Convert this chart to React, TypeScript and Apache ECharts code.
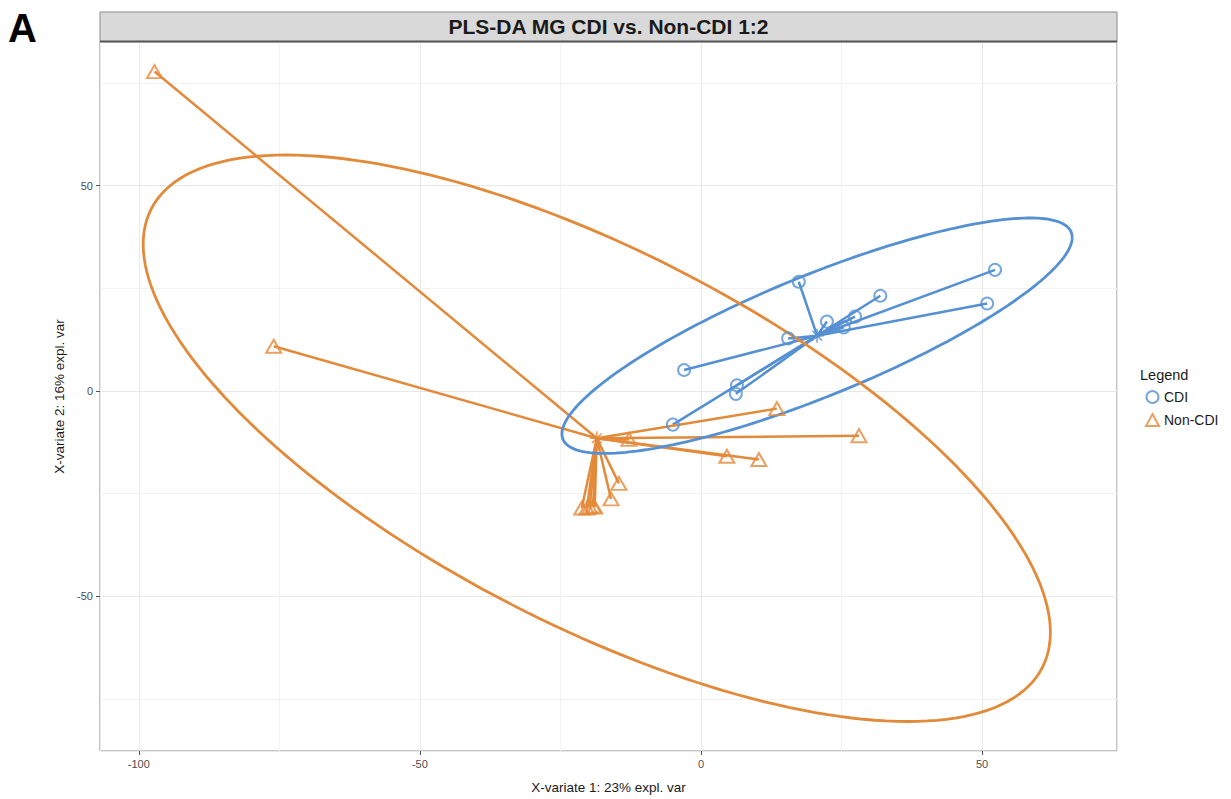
import React, { useEffect, useRef } from "react";
import * as echarts from "echarts";

// ---- data ----
const cdiX = [17.4, 52.3, 50.9, 31.9, 27.4, 22.4, 25.4, 15.5, -3.0, 6.4, 6.2, -5.0];
const cdiY = [26.6, 29.5, 21.3, 23.2, 18.1, 16.9, 15.5, 12.8, 5.1, 1.4, -0.7, -8.2];
const nonX = [-97.2, -76.0, 13.5, 28.1, -12.8, 4.6, 10.3, -14.6, -16.0, -21.2, -20.3, -19.8, -19.2, -18.9];
const nonY = [77.8, 10.9, -4.3, -10.9, -11.8, -15.9, -16.7, -22.5, -26.3, -28.5, -28.5, -28.3, -28.0, -28.3];
const groups = ["CDI", "Non-CDI"];
const xMajorTicks = [-100, -50, 0, 50];
const xMinorGrid = [-75, -25, 25];
const yMinorGrid = [-75, -25, 25, 75];
const ellipseLevel = 0.95;

const BLUE = "#5590D2";
const ORANGE = "#E38A3A";
const FONT = "Liberation Sans, Arial, Helvetica, sans-serif";

function mean(a: number[]) {
  return a.reduce((s, v) => s + v, 0) / a.length;
}

function confEllipse(xs: number[], ys: number[]) {
  const mx = mean(xs), my = mean(ys);
  const n = xs.length;
  let sxx = 0, syy = 0, sxy = 0;
  for (let i = 0; i < n; i++) {
    sxx += (xs[i] - mx) ** 2;
    syy += (ys[i] - my) ** 2;
    sxy += (xs[i] - mx) * (ys[i] - my);
  }
  sxx /= n - 1; syy /= n - 1; sxy /= n - 1;
  const t = Math.sqrt(-2 * Math.log(1 - ellipseLevel));
  const a = Math.sqrt(sxx);
  const b = sxy / a;
  const c = Math.sqrt(syy - b * b);
  const pts: number[][] = [];
  for (let k = 0; k <= 200; k++) {
    const th = (2 * Math.PI * k) / 200;
    pts.push([mx + t * a * Math.cos(th), my + t * (b * Math.cos(th) + c * Math.sin(th))]);
  }
  return pts;
}

function segments(xs: number[], ys: number[]) {
  const cx = mean(xs), cy = mean(ys);
  return xs.map((x, i) => ({ coords: [[cx, cy], [x, ys[i]]] }));
}

const STAR = "path://M0,-1L0,1M-1,0L1,0M-0.7,-0.7L0.7,0.7M-0.7,0.7L0.7,-0.7";

export default function App() {
  const ref = useRef<HTMLDivElement>(null);
  useEffect(() => {
    if (!ref.current) return;
    const chart = echarts.init(ref.current, null, { renderer: "svg" });
    const cdiPts = cdiX.map((x, i) => [x, cdiY[i]]);
    const nonPts = nonX.map((x, i) => [x, nonY[i]]);
    const option: any = {
      animation: false,
      backgroundColor: "#ffffff",
      title: {
        text: "PLS-DA MG CDI vs. Non-CDI 1:2",
        left: 608.5,
        top: 16,
        textAlign: "center",
        padding: 0,
        textStyle: { fontFamily: FONT, fontSize: 21, fontWeight: "bold", color: "#1a1a1a" },
      },
      graphic: [
        {
          type: "rect",
          shape: { x: 100, y: 12, width: 1017, height: 30 },
          style: { fill: "#d9d9d9", stroke: "#8a8a8a", lineWidth: 1 },
          z: -1,
        },
        {
          type: "line",
          shape: { x1: 100, y1: 41.5, x2: 1117, y2: 41.5 },
          style: { stroke: "#555555", lineWidth: 2 },
          z: 10,
        },
        {
          type: "text",
          left: 8,
          top: 8,
          style: { text: "A", fontFamily: FONT, fontSize: 40, fontWeight: "bold", fill: "#000" },
        },
        {
          type: "text",
          left: 1140,
          top: 367,
          style: { text: "Legend", fontFamily: FONT, fontSize: 14.5, fill: "#1a1a1a" },
        },
      ],
      legend: {
        data: [
          { name: groups[0], icon: "circle", itemStyle: { color: "transparent", borderColor: BLUE, borderWidth: 2 } },
          { name: groups[1], icon: "triangle", itemStyle: { color: "transparent", borderColor: ORANGE, borderWidth: 2 } },
        ],
        orient: "vertical",
        left: 1145,
        top: 390,
        itemWidth: 13,
        itemHeight: 12,
        itemGap: 9,
        padding: 0,
        textStyle: { fontFamily: FONT, fontSize: 14, color: "#1a1a1a" },
        selectedMode: false,
      },
      grid: {
        left: 100,
        right: 114,
        top: 42,
        bottom: 42,
        show: true,
        borderColor: "#8a8a8a",
        borderWidth: 1,
        backgroundColor: "transparent",
      },
      xAxis: {
        type: "value",
        min: -106.9,
        max: 74.0,
        splitNumber: 4,
        name: "X-variate 1: 23% expl. var",
        nameLocation: "middle",
        nameGap: 29,
        nameTextStyle: { fontFamily: FONT, fontSize: 13.5, color: "#1a1a1a" },
        axisLine: { show: false, onZero: false },
        axisTick: { show: true, length: 4, lineStyle: { color: "#555", width: 1 } },
        axisLabel: {
          showMinLabel: false,
          showMaxLabel: false,
          margin: 7,
          fontFamily: FONT,
          fontSize: 11,
          color: "#4d4d4d",
          formatter: (v: number) => (xMajorTicks.includes(v) ? String(v) : ""),
        },
        splitLine: { show: true, lineStyle: { color: "#e8e8e8", width: 1 } },
      },
      yAxis: {
        type: "value",
        min: -87.7,
        max: 85.0,
        splitNumber: 4,
        name: "X-variate 2: 16% expl. var",
        nameLocation: "middle",
        nameGap: 32,
        nameTextStyle: { fontFamily: FONT, fontSize: 13.5, color: "#1a1a1a" },
        axisLine: { show: false, onZero: false },
        axisTick: { show: true, length: 4, lineStyle: { color: "#555", width: 1 } },
        axisLabel: {
          showMinLabel: false,
          showMaxLabel: false,
          margin: 7,
          fontFamily: FONT,
          fontSize: 11,
          color: "#4d4d4d",
        },
        splitLine: { show: true, lineStyle: { color: "#e8e8e8", width: 1 } },
      },
      series: [
        {
          name: "minor-grid",
          type: "line",
          data: [],
          silent: true,
          z: 0,
          markLine: {
            silent: true,
            z: 0,
            symbol: "none",
            label: { show: false },
            lineStyle: { color: "#f2f2f2", width: 1, type: "solid" },
            data: [
              ...xMinorGrid.map((v) => ({ xAxis: v })),
              ...yMinorGrid.map((v) => ({ yAxis: v })),
            ],
          },
        },
        {
          name: "CDI-star",
          type: "lines",
          coordinateSystem: "cartesian2d",
          data: segments(cdiX, cdiY),
          lineStyle: { color: BLUE, width: 2.5, opacity: 1 },
          silent: true,
          z: 2,
        },
        {
          name: "Non-CDI-star",
          type: "lines",
          coordinateSystem: "cartesian2d",
          data: segments(nonX, nonY),
          lineStyle: { color: ORANGE, width: 2.5, opacity: 1 },
          silent: true,
          z: 2,
        },
        {
          name: "CDI-ellipse",
          type: "line",
          data: confEllipse(cdiX, cdiY),
          showSymbol: false,
          symbol: "none",
          lineStyle: { color: BLUE, width: 2.8 },
          silent: true,
          z: 3,
        },
        {
          name: "Non-CDI-ellipse",
          type: "line",
          data: confEllipse(nonX, nonY),
          showSymbol: false,
          symbol: "none",
          lineStyle: { color: ORANGE, width: 2.8 },
          silent: true,
          z: 3,
        },
        {
          name: groups[0],
          type: "scatter",
          data: cdiPts,
          symbol: "circle",
          symbolSize: 12,
          itemStyle: { color: "transparent", borderColor: BLUE, borderWidth: 2 },
          z: 4,
        },
        {
          name: groups[1],
          type: "scatter",
          data: nonPts,
          symbol: "triangle",
          symbolSize: [15, 13],
          itemStyle: { color: "transparent", borderColor: ORANGE, borderWidth: 2 },
          z: 4,
        },
        {
          name: "centroids",
          type: "scatter",
          data: [
            { value: [mean(cdiX), mean(cdiY)], itemStyle: { borderColor: BLUE } },
            { value: [mean(nonX), mean(nonY)], itemStyle: { borderColor: ORANGE } },
          ],
          symbol: STAR,
          symbolSize: 14,
          itemStyle: { color: "transparent", borderWidth: 1.6 },
          silent: true,
          z: 5,
        },
      ],
    };
    chart.setOption(option);
    return () => chart.dispose();
  }, []);
  return (
    <div
      ref={ref}
      style={{ width: 1231, height: 799, position: "fixed", left: 0, top: 0 }}
    />
  );
}
